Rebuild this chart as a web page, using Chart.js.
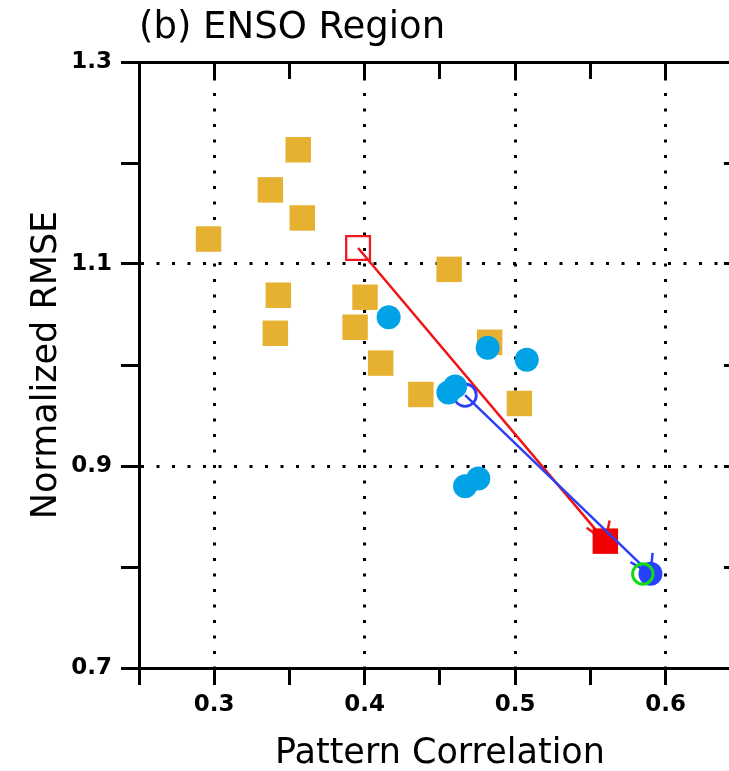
<!DOCTYPE html>
<html>
<head>
<meta charset="utf-8">
<script src="https://cdn.jsdelivr.net/npm/chart.js@4.4.1/dist/chart.umd.min.js"></script>
<style>
  html, body { margin: 0; padding: 0; background: #fff; overflow: hidden; }
  #wrap { width: 729px; height: 771px; overflow: hidden; }
</style>
</head>
<body>
<div id="wrap"><canvas id="chart" width="760" height="771"></canvas></div>
<script>
// model points (gold squares)
const goldX = [0.2962, 0.3558, 0.3373, 0.3585, 0.3426, 0.3406, 0.4002, 0.3936, 0.4106, 0.4561, 0.4830, 0.4373, 0.5028];
const goldY = [1.1247, 1.2131, 1.1734, 1.1456, 1.0691, 1.0314, 1.0671, 1.0374, 1.0019, 1.0947, 1.0225, 0.9708, 0.9619];
// model points (light blue circles)
const cyanX = [0.4159, 0.4817, 0.5077, 0.4601, 0.4556, 0.4755, 0.4667];
const cyanY = [1.0473, 1.0171, 1.0052, 0.9788, 0.9728, 0.8877, 0.8800];
// single points
const redOpen = [0.3956, 1.1158];
const redFilled = [0.5599, 0.8256];
const blueOpen = [0.4667, 0.9701];
const blueFilled = [0.5899, 0.7934];
const greenOpen = [0.5848, 0.7931];

// axes
const xTicks = [0.25, 0.3, 0.35, 0.4, 0.45, 0.5, 0.55, 0.6, 0.65];
const xLabels = [0.3, 0.4, 0.5, 0.6];
const yTicks = [0.7, 0.8, 0.9, 1.0, 1.1, 1.2, 1.3];
const yLabels = [0.7, 0.9, 1.1, 1.3];
const yGrid = [0.9, 1.1];

const pts = (xs, ys) => xs.map((x, i) => ({ x: x, y: ys[i] }));
const pt = p => [{ x: p[0], y: p[1] }];

Chart.defaults.font.family = 'DejaVu Sans';
Chart.defaults.color = '#000';

const arrowHeads = {
  id: 'arrowHeads',
  afterDatasetDraw(chart, args) {
    const ds = chart.data.datasets[args.index];
    if (!ds.arrow) return;
    const xs = chart.scales.x, ys = chart.scales.y;
    const a = ds.data[0], b = ds.data[1];
    const x1 = xs.getPixelForValue(a.x), y1 = ys.getPixelForValue(a.y);
    const x2 = xs.getPixelForValue(b.x), y2 = ys.getPixelForValue(b.y);
    const ang = Math.atan2(y1 - y2, x1 - x2);
    const ctx = chart.ctx;
    ctx.save();
    ctx.strokeStyle = ds.borderColor;
    ctx.lineWidth = ds.borderWidth;
    ctx.beginPath();
    [[-14, 23], [52, 21]].forEach(w => {
      const t = ang + w[0] * Math.PI / 180;
      ctx.moveTo(x2, y2);
      ctx.lineTo(x2 + w[1] * Math.cos(t), y2 + w[1] * Math.sin(t));
    });
    ctx.stroke();
    ctx.restore();
  }
};

const tickSet = arr => scale => { scale.ticks = arr.map(v => ({ value: v })); };
const near = (arr, v) => arr.some(t => Math.abs(t - v) < 1e-6);

new Chart(document.getElementById('chart'), {
  type: 'scatter',
  data: {
    datasets: [
      { data: pt(greenOpen), pointStyle: 'circle', pointRadius: 10.2, pointBorderWidth: 3,
        pointBorderColor: '#10DC10', pointBackgroundColor: 'rgba(0,0,0,0)' },
      { data: pt(blueFilled), pointStyle: 'circle', pointRadius: 12, pointBorderWidth: 0,
        pointBackgroundColor: '#2642FF' },
      { data: pts(cyanX, cyanY), pointStyle: 'circle', pointRadius: 12, pointBorderWidth: 0,
        pointBackgroundColor: '#02A3E6' },
      { data: pt(blueOpen), pointStyle: 'circle', pointRadius: 11.2, pointBorderWidth: 2.8,
        pointBorderColor: '#2B3FF5', pointBackgroundColor: 'rgba(0,0,0,0)' },
      { data: [pt(blueOpen)[0], pt(blueFilled)[0]], showLine: true, arrow: true, pointRadius: 0,
        borderColor: '#2B3FF5', borderWidth: 2.5 },
      { data: pt(redFilled), pointStyle: 'rect', pointRadius: 18, pointBorderWidth: 0,
        pointBackgroundColor: '#F00000' },
      { data: [pt(redOpen)[0], pt(redFilled)[0]], showLine: true, arrow: true, pointRadius: 0,
        borderColor: '#F01414', borderWidth: 2.5 },
      { data: pt(redOpen), pointStyle: 'rect', pointRadius: 16.8, pointBorderWidth: 2.3,
        pointBorderColor: '#F01A22', pointBackgroundColor: 'rgba(0,0,0,0)' },
      { data: pts(goldX, goldY), pointStyle: 'rect', pointRadius: 18, pointBorderWidth: 0,
        pointBackgroundColor: '#E6B030' }
    ]
  },
  options: {
    responsive: false,
    animation: false,
    events: [],
    layout: { padding: 0 },
    plugins: {
      legend: { display: false },
      tooltip: { enabled: false },
      title: {
        display: true,
        text: '(b) ENSO Region',
        fullSize: false,
        align: 'start',
        color: '#000',
        font: { size: 37, weight: 'normal', lineHeight: 1 },
        padding: { top: 9.5, bottom: 0 }
      }
    },
    scales: {
      x: {
        type: 'linear', position: 'bottom', min: 0.25, max: 0.65,
        afterBuildTicks: tickSet(xTicks),
        afterFit: s => { s.height = 103; },
        border: { display: true, color: '#000', width: 3, dash: [3, 12.5] },
        grid: {
          color: c => near(xLabels, c.tick.value) ? '#000' : 'rgba(0,0,0,0)',
          lineWidth: 3, tickLength: 17, tickWidth: 3, tickColor: '#000'
        },
        ticks: {
          autoSkip: false, maxRotation: 0, padding: 6, color: '#000',
          font: { size: 23, weight: 'bold' },
          callback: v => near(xLabels, v) ? v.toFixed(1) : ''
        },
        title: {
          display: true, text: 'Pattern Correlation', color: '#000',
          font: { size: 35, lineHeight: 1 }, padding: { top: 0, bottom: 0 }
        }
      },
      x2: {
        type: 'linear', position: 'top', min: 0.25, max: 0.65,
        afterBuildTicks: tickSet(xTicks),
        afterFit: s => { s.height = 15.5; },
        border: { display: true, color: '#000', width: 3 },
        grid: { drawOnChartArea: false, tickLength: -17, tickWidth: 3, tickColor: '#000' },
        ticks: { display: false }
      },
      y: {
        type: 'linear', position: 'left', min: 0.7, max: 1.3,
        afterBuildTicks: tickSet(yTicks),
        afterFit: s => { s.width = 139; },
        border: { display: true, color: '#000', width: 3, dash: [3, 12.5] },
        grid: {
          color: c => near(yGrid, c.tick.value) ? '#000' : 'rgba(0,0,0,0)',
          lineWidth: 3, tickLength: 18, tickWidth: 3, tickColor: '#000'
        },
        ticks: {
          autoSkip: false, padding: 9, color: '#000',
          font: { size: 23, weight: 'bold' },
          callback: v => near(yLabels, v) ? v.toFixed(1) : ''
        },
        title: {
          display: true, text: 'Normalized RMSE', color: '#000',
          font: { size: 35, lineHeight: 1 }, padding: { top: 29, bottom: 0 }
        }
      },
      y2: {
        type: 'linear', position: 'right', min: 0.7, max: 1.3,
        afterBuildTicks: tickSet(yTicks),
        afterFit: s => { s.width = 16; },
        border: { display: true, color: '#000', width: 3 },
        grid: { drawOnChartArea: false, tickLength: -17, tickWidth: 3, tickColor: '#000' },
        ticks: { display: false }
      }
    }
  },
  plugins: [arrowHeads]
});
</script>
</body>
</html>
